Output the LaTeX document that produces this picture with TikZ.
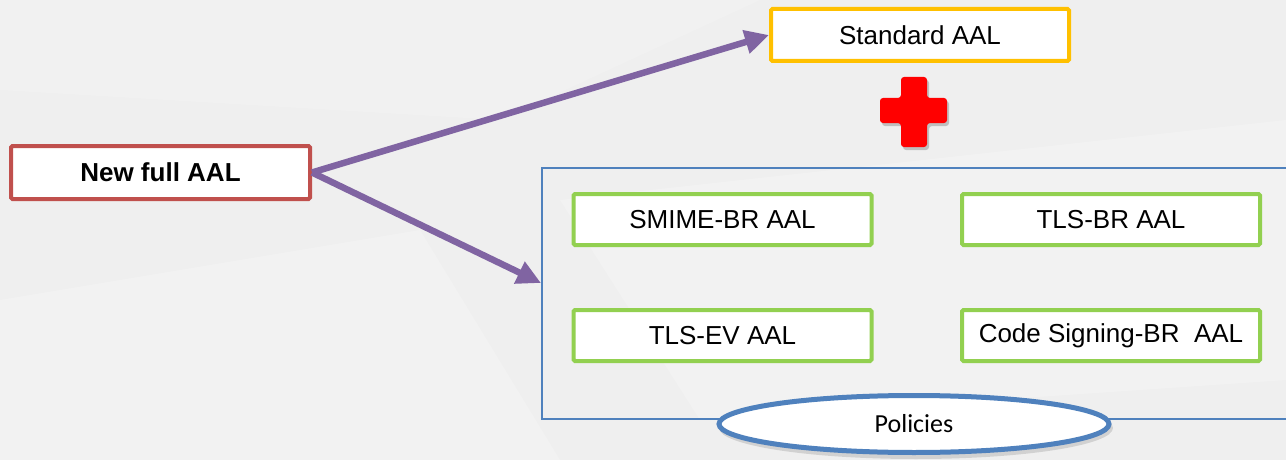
\documentclass[tikz,border=0pt]{standalone}
\usepackage{fontspec}
\setmainfont{Liberation Sans}
\newfontfamily\calib{Carlito}
\usetikzlibrary{arrows.meta,shapes.geometric}
\definecolor{bgc}{HTML}{EFEFEF}
\definecolor{redb}{HTML}{C0504D}
\definecolor{goldb}{HTML}{FFC000}
\definecolor{greenb}{HTML}{92D050}
\definecolor{blueb}{HTML}{4F81BD}
\definecolor{purp}{HTML}{8064A2}
\definecolor{crossred}{HTML}{FF0000}
\tikzset{
  aal/.style={draw, line width=4pt, fill=white, minimum width=298pt, minimum height=52pt,
    inner sep=0pt, rounded corners=1.5pt, font=\fontsize{26}{30}\selectfont},
  greenbox/.style={aal, draw=greenb, minimum height=51pt},
  arr/.style={draw=purp, line width=6.5pt, -{Triangle[length=24pt,width=23pt]}},
  container/.style={draw=blueb, line width=2pt, minimum width=758pt, minimum height=251pt, inner sep=0pt},
  pol/.style={ellipse, draw=blueb, line width=5pt, fill=white, minimum width=390pt,
    minimum height=57pt, inner sep=0pt, font=\calib\fontsize{26}{30}\selectfont}
}
\begin{document}
\begin{tikzpicture}[x=1pt,y=-1pt]
\useasboundingbox (0,0) rectangle (1286,460);
\clip (0,0) rectangle (1286,460);
\fill[bgc] (0,0) rectangle (1286,460);
% faint background planes
\fill[white, opacity=0.2] (0,300) -- (420,230) -- (560,460) -- (0,460) -- cycle;
\fill[white, opacity=0.2] (560,200) -- (1286,120) -- (1286,380) -- (700,420) -- cycle;
\fill[white, opacity=0.15] (0,0) -- (760,0) -- (500,120) -- (0,90) -- cycle;

% container
\node[container] (cont) at (921,293.5) {};
\coordinate (tip2) at ([yshift=10.5pt]cont.west);

% boxes
\node[aal, draw=redb, font=\fontsize{26}{30}\selectfont\bfseries, minimum width=299pt, minimum height=53pt] (new) at (160.5,172.5) {New full AAL};
\node[aal, draw=goldb] (std) at (920,35) {Standard AAL};
\node[greenbox] (smime) at (722.5,219.5) {SMIME-BR AAL};
\node[greenbox] (tlsbr) at (1111,219.5) {TLS-BR AAL};
\node[greenbox] (tlsev) at (722.5,335.5) {TLS-EV AAL};
\node[greenbox] (code) at (1111,335.5) {Code Signing-BR~ AAL};

% policies ellipse with soft shadow
\fill[black, opacity=0.12] (916,428) ellipse (197pt and 31pt);
\node[pol] (policies) at (914,424) {Policies};

% red cross
\fill[black, opacity=0.2, rounded corners=3pt, shift={(2,3)}]
  (901,77) -- (927,77) -- (927,98) -- (947,98) -- (947,123) -- (927,123) --
  (927,147) -- (901,147) -- (901,123) -- (880,123) -- (880,98) -- (901,98) -- cycle;
\fill[crossred, rounded corners=3pt]
  (901,77) -- (927,77) -- (927,98) -- (947,98) -- (947,123) -- (927,123) --
  (927,147) -- (901,147) -- (901,123) -- (880,123) -- (880,98) -- (901,98) -- cycle;

% arrows
\draw[arr] (new.east) -- (std.west);
\draw[arr] (new.east) -- (tip2);
\end{tikzpicture}
\end{document}
